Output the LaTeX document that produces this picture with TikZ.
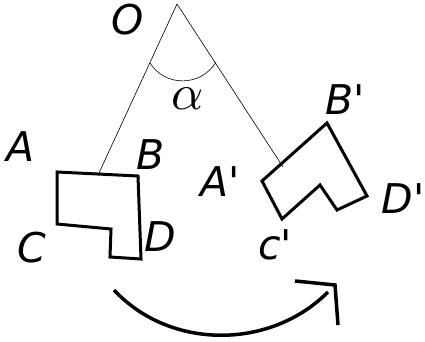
\documentclass[tikz,border=0pt]{standalone}
\usepackage{fontspec}
\setmainfont{DejaVu Sans}
\usetikzlibrary{positioning}

\begin{document}
\begin{tikzpicture}[x=1pt, y=-1pt, line join=miter]
  \tikzstyle{lbl} = [font=\fontsize{41}{48}\selectfont\itshape, inner sep=0pt]
  \tikzstyle{piece} = [line width=3pt]
  \tikzstyle{ray} = [line width=0.6pt]
  \useasboundingbox (0,0) rectangle (425,342);

  % centre and rays
  \coordinate (O) at (177,4);
  \coordinate (Pa) at (99,173);
  \coordinate (Pb) at (283,167);
  \node[lbl] (LO) at (128,20) {O};

  % original piece
  \coordinate (A) at (57,172);
  \coordinate (B) at (138,176);
  \coordinate (D) at (141,259);
  \coordinate (E) at (110,257);
  \coordinate (F) at (111,229);
  \coordinate (C) at (57,224);

  % rotated piece
  \coordinate (A2) at (262,181);
  \coordinate (B2) at (327,123);
  \coordinate (D2) at (367,196);
  \coordinate (E2) at (337,210);
  \coordinate (F2) at (320,185);
  \coordinate (C2) at (282,219);

  \draw[ray] (O) -- (Pa);
  \draw[ray] (O) -- (Pb);
  \draw[ray] (150,63) .. controls (165,87) and (201,87) .. (216,62);
  \node[inner sep=0pt, scale=5] (Lalpha) at (188,99) {$\alpha$};

  \draw[piece] (A) -- (B) -- (D) -- (E) -- (F) -- (C) -- cycle;
  \draw[piece] (A2) -- (B2) -- (D2) -- (E2) -- (F2) -- (C2) -- cycle;

  \node[lbl] (LA) at (21,147) {A};
  \node[lbl] (LB) at (151,155) {B};
  \node[lbl] (LC) at (32,248) {C};
  \node[lbl] (LD) at (160,237) {D};
  \node[lbl] (LA2) at (220,182) {A\textquotesingle};
  \node[lbl] (LB2) at (345,100) {B\textquotesingle};
  \node[lbl] (LD2) at (403,199) {D\textquotesingle};
  \node[lbl] (LC2) at (275,245) {c\textquotesingle};

  % direction of rotation
  \coordinate (S) at (114,290);
  \coordinate (T) at (328,292);
  \coordinate (Tip) at (335,285);
  \coordinate (H1) at (295,281);
  \coordinate (H2) at (338,325);
  \draw[line width=3.5pt] (S) .. controls (170,350) and (270,350) .. (T);
  \draw[line width=3.5pt] (H1) -- (Tip) -- (H2);
\end{tikzpicture}
\end{document}
